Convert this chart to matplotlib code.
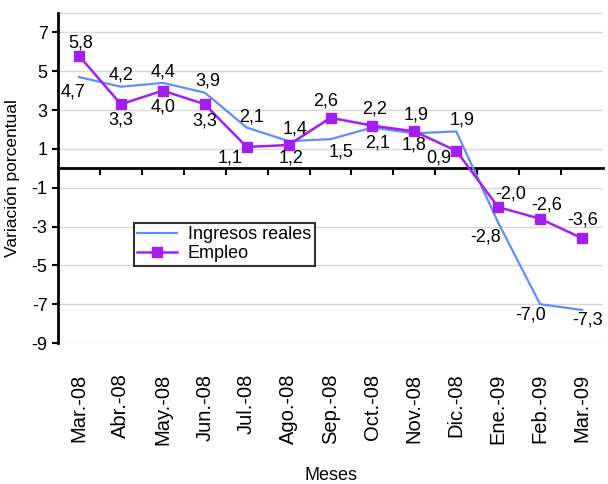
import numpy as np
import matplotlib.pyplot as plt

plt.rcParams['font.family'] = ['Liberation Sans', 'DejaVu Sans']
plt.rcParams['axes.unicode_minus'] = False

# Datos
meses = ['Mar.-08', 'Abr.-08', 'May.-08', 'Jun.-08', 'Jul.-08', 'Ago.-08', 'Sep.-08',
         'Oct.-08', 'Nov.-08', 'Dic.-08', 'Ene.-09', 'Feb.-09', 'Mar.-09']
ingresos = [4.7, 4.2, 4.4, 3.9, 2.1, 1.4, 1.5, 2.1, 1.8, 1.9, -2.8, -7.0, -7.3]
empleo = [5.8, 3.3, 4.0, 3.3, 1.1, 1.2, 2.6, 2.2, 1.9, 0.9, -2.0, -2.6, -3.6]

# Desplazamiento de etiquetas (px: dx, dy hacia abajo)
off_ing = [(-6, 15), (0, -12), (0, -11), (3, -12), (5, -11), (6, -12), (11, 13),
           (5, 15), (0, 12), (6, -11), (-13, 14), (-9, 11), (6, 10)]
off_emp = [(2, -13), (0, 16), (0, 16), (0, 17), (-17, 11), (2, 13), (-5, -17),
           (2, -17), (2, -16), (-17, 7), (12, -13), (7, -14), (1, -18)]

ymin, ymax = -9, 8
x = np.arange(len(meses))

fig = plt.figure(figsize=(6.08, 4.84), dpi=100)
ax = fig.add_axes([58 / 608, 1 - 343 / 484, 545 / 608, 330 / 484])

ax.plot(x, ingresos, color='#5F8DFF', lw=1.6, label='Ingresos reales')
ax.plot(x, empleo, color='#A21EF2', lw=1.8, marker='s', ms=6.5, label='Empleo')

px = 0.72
for i in range(len(x)):
    ax.annotate(f'{ingresos[i]:.1f}'.replace('.', ','), (x[i], ingresos[i]),
                xytext=(off_ing[i][0] * px, -off_ing[i][1] * px), textcoords='offset points',
                ha='center', va='center', fontsize=13)
    ax.annotate(f'{empleo[i]:.1f}'.replace('.', ','), (x[i], empleo[i]),
                xytext=(off_emp[i][0] * px, -off_emp[i][1] * px), textcoords='offset points',
                ha='center', va='center', fontsize=13)

ax.set_xlim(-0.5, len(meses) - 0.5)
ax.set_ylim(ymin, ymax)
ax.set_yticks(np.arange(-9, 8, 2))
ax.set_yticks([8], minor=True)
ax.yaxis.grid(True, which='both', color='#d9d9d9', lw=1)
ax.tick_params(axis='y', which='major', direction='out', length=4, width=1.5, labelsize=13)
ax.tick_params(axis='y', which='minor', length=0)
ax.set_axisbelow(True)

ax.set_xticks(x, meses, rotation=90)
ax.tick_params(axis='x', length=0, pad=22, labelsize=14.5)

for s in ['top', 'right', 'bottom']:
    ax.spines[s].set_visible(False)
ax.spines['left'].set_linewidth(2)

# eje en cero con marcas entre categorías
eje = ax.secondary_xaxis((0 - ymin) / (ymax - ymin))
eje.set_xticks(np.arange(0.5, len(meses) - 0.5, 1), [''] * (len(meses) - 1))
eje.tick_params(direction='in', length=5, width=1.5, labelbottom=False, labeltop=False)
for s in eje.spines.values():
    s.set_linewidth(2)

ax.set_ylabel('Variación porcentual', fontsize=12.5, labelpad=8)
ax.set_xlabel('Meses', fontsize=13, labelpad=16)

leg = ax.legend(loc='upper left', bbox_to_anchor=(0.139, 0.364), borderaxespad=0,
                fontsize=13, frameon=True, fancybox=False, handlelength=2.2,
                borderpad=0.2, labelspacing=0.1, handletextpad=0.6)
leg.get_frame().set_edgecolor('black')
leg.get_frame().set_linewidth(1.5)

fig.savefig('out.png', dpi=100)
